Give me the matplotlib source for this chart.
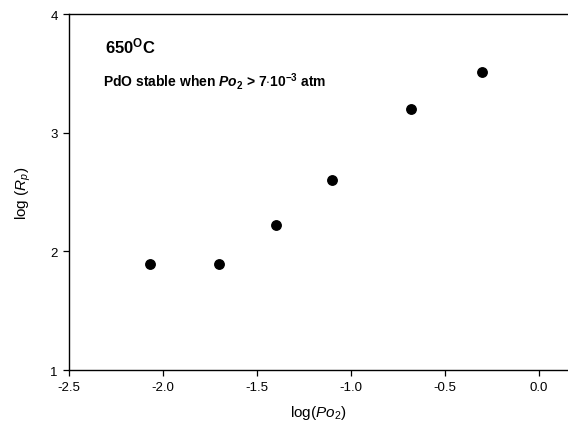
import numpy as np
import matplotlib
matplotlib.use('Agg')
import matplotlib.pyplot as plt

# log(Po2) vs log(Rp) at 650 C
log_po2 = [-2.07, -1.70, -1.40, -1.10, -0.68, -0.30]
log_rp = [1.89, 1.89, 2.22, 2.60, 3.20, 3.51]
x_ticks = [-2.5, -2.0, -1.5, -1.0, -0.5, 0.0]
y_ticks = [1, 2, 3, 4]

plt.rcParams['font.family'] = ['Liberation Sans', 'DejaVu Sans']
plt.rcParams['mathtext.fontset'] = 'custom'
plt.rcParams['mathtext.rm'] = 'Liberation Sans'
plt.rcParams['mathtext.it'] = 'Liberation Sans:italic'
plt.rcParams['mathtext.bf'] = 'Liberation Sans:bold'
plt.rcParams['mathtext.bfit'] = 'Liberation Sans:italic:bold'

fig = plt.figure(figsize=(5.68, 4.31), dpi=100)
ax = fig.add_axes([0.121, 0.139, 0.879, 0.826])

ax.plot(log_po2, log_rp, 'o', color='black', markersize=6.8, linestyle='none')

ax.set_xlim(-2.5, 0.155)
ax.set_ylim(1, 4)
ax.set_xticks(x_ticks)
ax.set_xticklabels(['%.1f' % v for v in x_ticks])
ax.set_yticks(y_ticks)
ax.tick_params(direction='out', length=4, width=0.9, labelsize=9.5, pad=4)
ax.spines['right'].set_visible(False)
for s in ['left', 'bottom', 'top']:
    ax.spines[s].set_linewidth(1.0)

ax.set_xlabel(r'log($Po_2$)', fontsize=11, labelpad=7)
ax.set_ylabel(r'log ($R_p$)', fontsize=11, labelpad=12)

ax.text(0.0725, 0.892, r'650$^\mathbf{O}$C', transform=ax.transAxes,
        fontsize=12, fontweight='bold', va='baseline', ha='left')
ax.text(0.068, 0.799, r'PdO stable when $\mathbfit{Po}_\mathbf{2}$ > 7$\cdot$10$^{\mathbf{-3}}$ atm',
        transform=ax.transAxes, fontsize=10, fontweight='bold', va='baseline', ha='left')

fig.savefig('out.png', dpi=100)
